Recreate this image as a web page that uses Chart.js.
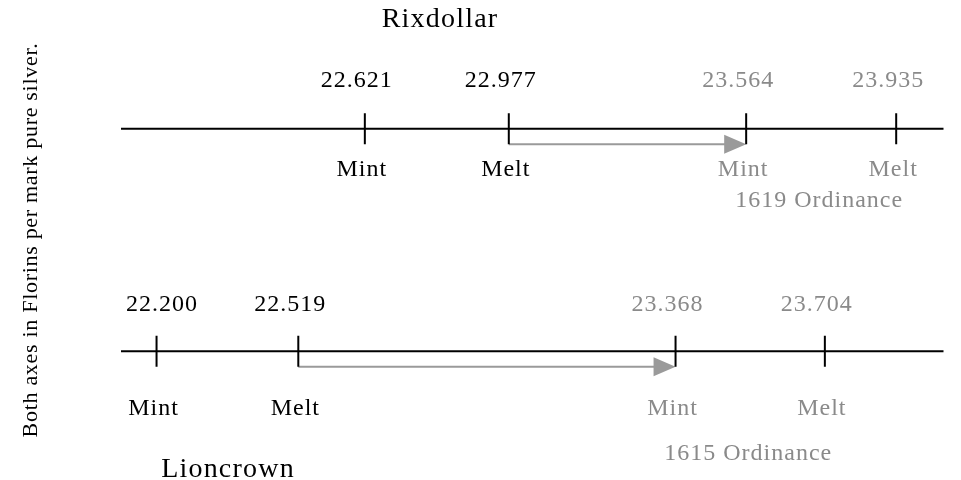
<!DOCTYPE html>
<html>
<head>
<meta charset="utf-8">
<script src="https://cdn.jsdelivr.net/npm/chart.js@4/dist/chart.umd.min.js"></script>
<style>
html,body{margin:0;padding:0;background:#fff;}
#wrap{width:961px;height:480px;position:relative;}
</style>
</head>
<body>
<div id="wrap"><canvas id="c" width="961" height="480"></canvas></div>
<script>
// ---- data ----
const rows = ['Rixdollar', 'Lioncrown'];
const rixValues = [22.621, 22.977, 23.564, 23.935];
const rixKinds = ['Mint', 'Melt', 'Mint', 'Melt'];
const rixNewOrdinance = [false, false, true, true];
const lionValues = [22.200, 22.519, 23.368, 23.704];
const lionKinds = ['Mint', 'Melt', 'Mint', 'Melt'];
const lionNewOrdinance = [false, false, true, true];
const ordinanceNames = ['1619 Ordinance', '1615 Ordinance'];
const arrowFrom = [1, 1];   // old Melt
const arrowTo = [2, 2];     // new Mint
const yTitle = 'Both axes in Florins per mark pure silver.';

// ---- style ----
const BLACK = '#000000', GREY = '#8a8a8a', ARROW = '#9a9a9a';
const FONT = '"Liberation Serif", "Times New Roman", serif';
const rowStyle = [
  { valueDy: -42, kindDy: 47, ordDy: 78, titleX: 440, titleY: 27 },
  { valueDy: -40, kindDy: 64, ordDy: 109, titleX: 228, titleY: 477 }
];

const series = [
  { name: rows[0], values: rixValues, kinds: rixKinds, isNew: rixNewOrdinance, axis: 'x', ordinance: ordinanceNames[0] },
  { name: rows[1], values: lionValues, kinds: lionKinds, isNew: lionNewOrdinance, axis: 'x2', ordinance: ordinanceNames[1] }
];

const datasets = series.map((s) => ({
  label: s.name,
  xAxisID: s.axis,
  yAxisID: 'y',
  data: s.values.map(v => ({ x: v, y: s.name })),
  pointStyle: 'line',
  rotation: 90,
  radius: 15.5,
  hoverRadius: 15.5,
  borderColor: BLACK,
  backgroundColor: BLACK,
  borderWidth: 2,
  showLine: false
}));

const axisLinePlugin = {
  id: 'rowAxes',
  beforeDatasetsDraw(chart) {
    const ctx = chart.ctx;
    const area = chart.chartArea;
    ctx.save();
    series.forEach((s) => {
      const yPix = chart.scales.y.getPixelForValue(s.name);
      // axis line
      ctx.strokeStyle = BLACK;
      ctx.lineWidth = 2;
      ctx.beginPath();
      ctx.moveTo(area.left, yPix);
      ctx.lineTo(area.right, yPix);
      ctx.stroke();
    });
    series.forEach((s, r) => {
      const xs = chart.scales[s.axis];
      const yPix = chart.scales.y.getPixelForValue(s.name);
      const x0 = xs.getPixelForValue(s.values[arrowFrom[r]]);
      const x1 = xs.getPixelForValue(s.values[arrowTo[r]]);
      const ay = yPix + 15.5;
      ctx.strokeStyle = ARROW;
      ctx.lineWidth = 2;
      ctx.beginPath();
      ctx.moveTo(x0, ay);
      ctx.lineTo(x1 - 20, ay);
      ctx.stroke();
      ctx.fillStyle = ARROW;
      ctx.beginPath();
      ctx.moveTo(x1, ay);
      ctx.lineTo(x1 - 22, ay - 9.5);
      ctx.lineTo(x1 - 22, ay + 9.5);
      ctx.closePath();
      ctx.fill();
    });
    ctx.restore();
  }
};

const labelPlugin = {
  id: 'labels',
  afterDraw(chart) {
    const ctx = chart.ctx;
    ctx.save();
    ctx.textAlign = 'center';
    ctx.textBaseline = 'alphabetic';
    series.forEach((s, r) => {
      const xs = chart.scales[s.axis];
      const yPix = chart.scales.y.getPixelForValue(s.name);
      const st = rowStyle[r];
      ctx.font = '24px ' + FONT;
      ctx.letterSpacing = '1px';
      const newXs = [];
      s.values.forEach((v, i) => {
        const px = xs.getPixelForValue(v);
        const txt = v.toFixed(3);
        const w = ctx.measureText(txt).width;
        let cx = px - 8;
        if (cx - w / 2 < chart.chartArea.left + 5) cx = chart.chartArea.left + 5 + w / 2;
        ctx.fillStyle = s.isNew[i] ? GREY : BLACK;
        ctx.fillText(txt, cx, yPix + st.valueDy);
        ctx.fillText(s.kinds[i], px - 3, yPix + st.kindDy);
        if (s.isNew[i]) newXs.push(px);
      });
      const mid = newXs.reduce((a, b) => a + b, 0) / newXs.length;
      ctx.fillStyle = GREY;
      ctx.fillText(s.ordinance, mid - 2, yPix + st.ordDy);
      // row title
      ctx.font = '28px ' + FONT;
      ctx.letterSpacing = '1.2px';
      ctx.fillStyle = BLACK;
      ctx.fillText(s.name, st.titleX, st.titleY);
    });
    // vertical axis note
    ctx.font = '22px ' + FONT;
    ctx.letterSpacing = '0.7px';
    ctx.fillStyle = BLACK;
    ctx.translate(37, 240);
    ctx.rotate(-Math.PI / 2);
    ctx.fillText(yTitle, 0, 0);
    ctx.restore();
  }
};

const rowAxis = (min, max) => ({
  type: 'linear',
  min: min,
  max: max,
  display: false
});

new Chart(document.getElementById('c'), {
  type: 'scatter',
  data: { datasets },
  options: {
    responsive: false,
    animation: false,
    events: [],
    layout: { padding: { left: 121, right: 0, top: 5, bottom: 0 } },
    plugins: { legend: { display: false }, tooltip: { enabled: false }, title: { display: false } },
    scales: {
      y: { type: 'category', labels: rows, offset: true, display: false },
      x: rowAxis(22.018, 24.052),
      x2: rowAxis(22.120, 23.971)
    }
  },
  plugins: [axisLinePlugin, labelPlugin]
});
</script>
</body>
</html>
